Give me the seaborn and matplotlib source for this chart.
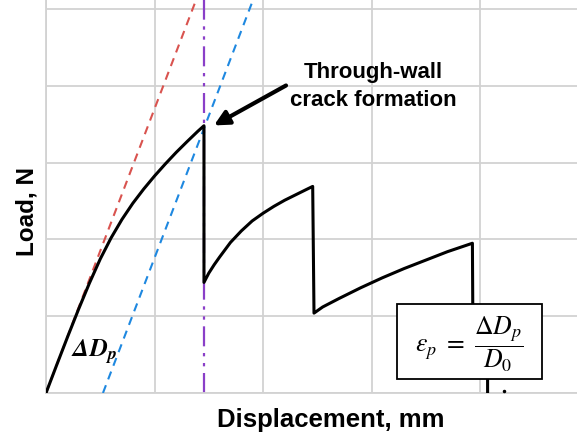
import numpy as np
import pandas as pd
import matplotlib
matplotlib.use("Agg")
import matplotlib.pyplot as plt
import matplotlib.patches as mpatches
import seaborn as sns

# ---- data (arbitrary units) ----
seg1_x = [0.0, 0.1, 0.2, 0.3, 0.4, 0.5, 0.6, 0.7, 0.8, 0.9, 1.0, 1.1, 1.2, 1.3, 1.4, 1.456]
seg1_y = [0.0, 0.37, 0.735, 1.09, 1.43, 1.745, 2.02, 2.26, 2.47, 2.655, 2.825, 2.983, 3.133, 3.273, 3.409, 3.48]
seg2_x = [1.456, 1.456, 1.5, 1.55, 1.6, 1.7, 1.8, 1.9, 2.0, 2.1, 2.2, 2.3, 2.4, 2.458]
seg2_y = [3.48, 1.44, 1.56, 1.67, 1.77, 1.96, 2.11, 2.24, 2.34, 2.43, 2.51, 2.58, 2.65, 2.69]
seg3_x = [2.458, 2.47, 2.55, 2.7, 2.9, 3.1, 3.3, 3.5, 3.7, 3.93]
seg3_y = [2.69, 1.04, 1.12, 1.23, 1.37, 1.50, 1.62, 1.73, 1.84, 1.95]
seg4_x = [3.93, 3.935, 4.07, 4.07]
seg4_y = [1.95, 0.75, 0.85, -0.4]
dot_x = [4.22]
dot_y = [0.02]

tangent_slope = 3.7
red_x = [0.0, 1.40]
blue_x = [0.525, 1.93]
crack_x = 1.46

x_grid = [0, 1, 2, 3, 4]
y_grid = [0, 1, 2, 3, 4, 5]

sns.set_style("white")
plt.rcParams['font.family'] = ['Liberation Sans', 'DejaVu Sans']
plt.rcParams['text.color'] = 'black'
plt.rcParams['axes.labelcolor'] = 'black'
plt.rcParams['mathtext.fontset'] = 'custom'
plt.rcParams['mathtext.rm'] = 'STIXGeneral'
plt.rcParams['mathtext.it'] = 'STIXGeneral:italic'
plt.rcParams['mathtext.bf'] = 'STIXGeneral:italic:bold'

fig = plt.figure(figsize=(5.77, 4.37), dpi=100)
ax = fig.add_axes([46/577, 44/437, 531/577, 393/437])

curve = pd.DataFrame({"x": seg1_x + seg2_x + seg3_x + seg4_x,
                      "y": seg1_y + seg2_y + seg3_y + seg4_y})
red_df = pd.DataFrame({"x": red_x, "y": [tangent_slope * v for v in red_x]})
blue_df = pd.DataFrame({"x": blue_x, "y": [tangent_slope * (v - blue_x[0]) for v in blue_x]})

ax.axvline(crack_x, color="#8a3fc8", lw=1.6, ls=(0, (9, 3, 1.5, 3, 1.5, 3)), zorder=2)
sns.lineplot(data=red_df, x="x", y="y", ax=ax, color="#d9534f", lw=1.5,
             linestyle=(0, (4, 3)), sort=False, estimator=None, zorder=3)
sns.lineplot(data=blue_df, x="x", y="y", ax=ax, color="#1e88e0", lw=1.5,
             linestyle=(0, (4, 3)), sort=False, estimator=None, zorder=3)
sns.lineplot(data=curve, x="x", y="y", ax=ax, color="black", lw=2.2,
             sort=False, estimator=None, zorder=4)
ax.plot(dot_x, dot_y, 'o', color='black', ms=1.5, zorder=4)

ax.set_xlim(0, 531/108.5)
ax.set_ylim(0, 393/76.8)
ax.set_xticks(x_grid)
ax.set_yticks(y_grid)
ax.set_xticklabels([])
ax.set_yticklabels([])
ax.tick_params(length=0)
ax.grid(True, color="#d2d2d2", lw=1.3)
ax.set_axisbelow(True)
for s in ["top", "right"]:
    ax.spines[s].set_visible(False)
for s in ["left", "bottom"]:
    ax.spines[s].set_color("#d2d2d2")
    ax.spines[s].set_linewidth(1.3)

ax.set_xlabel("Displacement, mm", fontsize=18.5, fontweight="bold", va="center")
ax.xaxis.set_label_coords(0.537, -0.069)
ax.set_ylabel("Load, N", fontsize=17.5, fontweight="bold", va="center")
ax.yaxis.set_label_coords(-0.036, 0.463)

# annotation
ax.annotate("", xy=(1.548, 3.484), xytext=(2.212, 4.004),
            arrowprops=dict(arrowstyle="-|>", lw=3, color="black", mutation_scale=22,
                            shrinkA=0, shrinkB=0), zorder=6)
ax.text(3.014, 3.99, "Through-wall\ncrack formation", ha="center", va="center",
        fontsize=16, fontweight="bold", linespacing=1.4, zorder=6)

ax.text(0.447, 0.53, r"$\mathbf{\Delta D_p}$", ha="center", va="center", fontsize=18, zorder=6)

rect = mpatches.Rectangle((0.661, 0.0356), 0.273, 0.191, transform=ax.transAxes,
                          fc="white", ec="black", lw=1.3, zorder=7)
ax.add_patch(rect)
ax.text(0.7975, 0.124, r"$\varepsilon_p\ =\ \dfrac{\Delta D_p}{D_0}$", transform=ax.transAxes,
        ha="center", va="center", fontsize=18.5, math_fontfamily="stix", zorder=8)

fig.savefig("out.png", dpi=100)
